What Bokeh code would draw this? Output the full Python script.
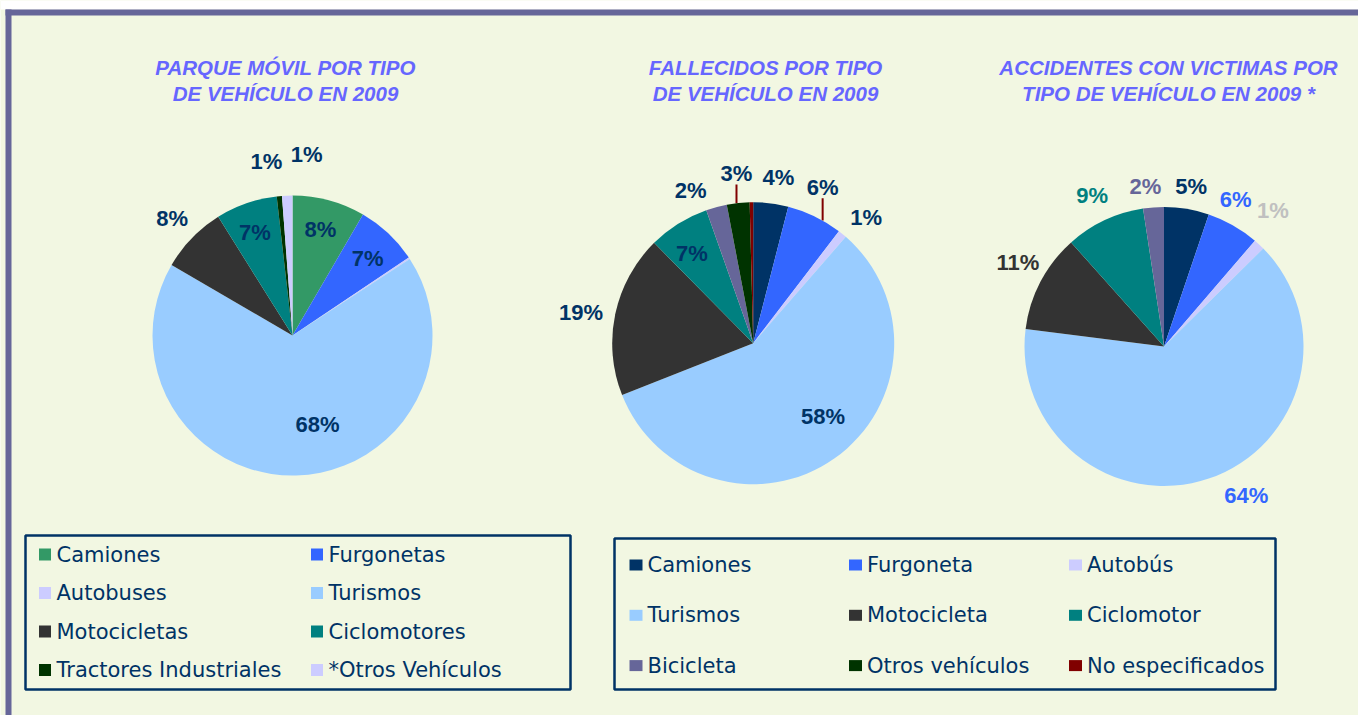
import math
from bokeh.plotting import figure
from bokeh.models import Range1d, ColumnDataSource
from bokeh.core.properties import value
from bokeh.embed import file_html
from bokeh.resources import INLINE

# ---------------- data ----------------
title_parque = ["PARQUE MÓVIL POR TIPO", "DE VEHÍCULO EN 2009"]
title_fallecidos = ["FALLECIDOS POR TIPO", "DE VEHÍCULO EN 2009"]
title_accidentes = ["ACCIDENTES CON VICTIMAS POR", "TIPO DE VEHÍCULO EN 2009 *"]

parque_categories = ["Camiones", "Furgonetas", "Autobuses", "Turismos", "Motocicletas",
                     "Ciclomotores", "Tractores Industriales", "*Otros Vehículos"]
parque_values = [8.4, 7.2, 0.2, 67.6, 7.7, 7.1, 0.6, 1.2]

victimas_categories = ["Camiones", "Furgoneta", "Autobús", "Turismos", "Motocicleta",
                       "Ciclomotor", "Bicicleta", "Otros vehículos", "No especificados"]
fallecidos_values = [4.0, 6.4, 1.0, 57.6, 18.6, 7.0, 2.4, 2.6, 0.4]
accidentes_values = [5.2, 6.1, 1.3, 64.4, 11.4, 9.2, 2.4, 0.0, 0.0]

# ---------------- styles ----------------
parque_colors = ["#339966", "#3366FF", "#CCCCFF", "#99CCFF", "#333333", "#008080", "#003300", "#CCCCFF"]
victimas_colors = ["#003366", "#3366FF", "#CCCCFF", "#99CCFF", "#333333", "#008080", "#666699", "#003300", "#800000"]
accidentes_label_colors = ["#003366", "#3366FF", "#C0C0C0", "#3366FF", "#333333", "#008080", "#666699", "#003366", "#003366"]

BG = "#F2F7E2"
FRAME = "#666699"
NAVY = "#003366"
TITLE_C = "#6666FF"

# label placement: radius factor and angular shift (deg) relative to slice middle
parque_lab_r = [0.78, 0.77, 1.2, 0.66, 1.2, 0.78, 1.26, 1.30]
parque_lab_shift = [-0.3, 1.0, 0, -14.3, 0.2, -0.9, -3.1, 6.6]
fallecidos_lab_r = [1.19, 1.21, 1.2, 0.72, 1.24, 0.77, 1.17, 1.21, 1.2]
fallecidos_lab_shift = [1.4, -1.9, 2.6, -8.1, -1.8, -2.3, -7.2, 0.5, 0]
accidentes_lab_r = [1.16, 1.17, 1.25, 1.22, 1.21, 1.2, 1.155, 1.2, 1.2]
accidentes_lab_shift = [0.3, -3.7, -4.4, -10.2, 2.3, -0.2, -2.3, 0, 0]

W, H = 1358, 715


def Y(py):
    return H - py


p = figure(width=W, height=H, x_range=Range1d(0, W), y_range=Range1d(0, H),
           output_backend="svg", toolbar_location=None, x_axis_type=None, y_axis_type=None,
           min_border=0, background_fill_color=BG, border_fill_color=BG, outline_line_color=None)
p.grid.visible = False

# frame bands
p.quad(left=[0], right=[W], top=[Y(0)], bottom=[Y(9)], fill_color="white", line_color=None)
p.quad(left=[5], right=[W], top=[Y(9)], bottom=[Y(15)], fill_color=FRAME, line_color=None)
p.quad(left=[5], right=[11], top=[Y(9)], bottom=[Y(H)], fill_color=FRAME, line_color=None)


def draw_pie(cx, cy, r, values, colors, lab_r, lab_shift, lab_colors, leaders=()):
    cy = Y(cy)
    total = float(sum(values))
    st, en, fc = [], [], []
    lx, ly, lt, lc = [], [], [], []
    b = 0.0
    for i, (v, c) in enumerate(zip(values, colors)):
        b1 = b + v / total * 360.0
        if v > 0:
            st.append(math.radians(90 - b))
            en.append(math.radians(90 - b1))
            fc.append(c)
        pct = int(v * 100.0 / total + 0.5)
        if pct > 0:
            mid = math.radians((b + b1) / 2 + lab_shift[i])
            rr = r * lab_r[i]
            x = cx + rr * math.sin(mid)
            y = cy + rr * math.cos(mid)
            lx.append(x); ly.append(y); lt.append(f"{pct}%"); lc.append(lab_colors[i])
            if i in leaders:
                ye = cy + math.sqrt(max(r * r - (x - cx) ** 2, 0))
                p.segment(x0=[x], y0=[y - 11], x1=[x], y1=[ye], line_color="#800000", line_width=2)
        b = b1
    p.wedge(x=cx, y=cy, radius=r, start_angle="s", end_angle="e", direction="clock",
            fill_color="c", line_color=None,
            source=ColumnDataSource(dict(s=st, e=en, c=fc)))
    p.text(x="x", y="y", text="t", text_color="c", text_align="center", text_baseline="middle",
           text_font=value("Liberation Sans"), text_font_style="bold", text_font_size="22px",
           source=ColumnDataSource(dict(x=lx, y=ly, t=lt, c=lc)))


def draw_title(cx, lines):
    p.text(x=[cx] * len(lines), y=[Y(67), Y(93)][:len(lines)], text=lines, text_color=TITLE_C,
           text_align="center", text_baseline="middle", text_font=value("Liberation Sans"),
           text_font_style="bold italic", text_font_size="20.5px")


def draw_legend(box, cats, colors, col_sq_x, col_txt_x, row_y0, row_step, sq_w, sq_h):
    l, t, r, b = box
    p.quad(left=[l], right=[r], top=[Y(t)], bottom=[Y(b)], fill_color=None,
           line_color=NAVY, line_width=2.5)
    n = len(col_sq_x)
    sx, sy, tx, ty = [], [], [], []
    for i, _ in enumerate(cats):
        c, rw = i % n, i // n
        yy = Y(row_y0 + rw * row_step)
        sx.append(col_sq_x[c]); sy.append(yy); tx.append(col_txt_x[c]); ty.append(yy)
    p.rect(x=sx, y=sy, width=sq_w, height=sq_h, fill_color=colors, line_color=None)
    p.text(x=tx, y=ty, text=cats, text_color=NAVY, text_align="left", text_baseline="middle",
           text_font=value("DejaVu Sans"), text_font_size="21px")


draw_title(285, title_parque)
draw_title(765, title_fallecidos)
draw_title(1168, title_accidentes)

draw_pie(292, 335, 140, parque_values, parque_colors, parque_lab_r, parque_lab_shift,
         [NAVY] * len(parque_values))
draw_pie(752.7, 342.7, 141, fallecidos_values, victimas_colors, fallecidos_lab_r,
         fallecidos_lab_shift, [NAVY] * len(fallecidos_values), leaders=(1, 7))
draw_pie(1163.5, 346, 139.5, accidentes_values, victimas_colors, accidentes_lab_r,
         accidentes_lab_shift, accidentes_label_colors)

draw_legend((25, 535, 570, 689), parque_categories, parque_colors,
            [44.5, 316.5], [56, 328], 554, 38.5, 12, 12)
draw_legend((614, 538, 1275, 689), victimas_categories, victimas_colors,
            [635.5, 855, 1075], [647, 866.5, 1086.5], 564.5, 50.3, 13, 11)

open("out.html", "w").write(file_html(p, INLINE))
